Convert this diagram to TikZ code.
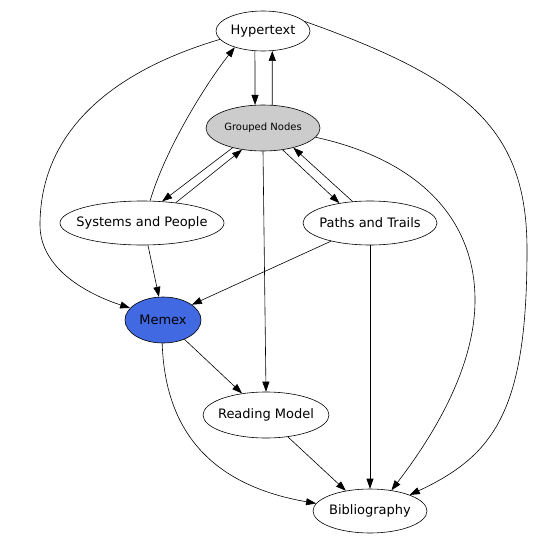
\documentclass[tikz,border=0pt]{standalone}
\usepackage{fontspec}
\setmainfont{DejaVu Sans}
\usetikzlibrary{shapes.geometric,arrows.meta}
\definecolor{grp}{HTML}{CCCCCC}
\definecolor{memexblue}{HTML}{4169E1}
\newcommand{\zlbl}[1]{\makebox[0pt]{#1}}
\begin{document}
\begin{tikzpicture}[x=1pt,y=-1pt,
  nd/.style={ellipse,draw,line width=0.6pt,inner sep=0pt,font=\fontsize{13}{15}\selectfont},
  e/.style={line width=0.6pt,-{Triangle[length=10pt,width=7pt]}}]
\useasboundingbox (0,0) rectangle (548,543);
\node[nd,minimum width=94pt,minimum height=40pt] (ht) at (263,31) {\zlbl{Hypertext}};
\node[nd,fill=grp,minimum width=114pt,minimum height=46pt,font=\fontsize{10}{12}\selectfont] (gn) at (263,128) {\zlbl{Grouped Nodes}};
\node[nd,minimum width=164pt,minimum height=44pt] (sp) at (142,223) {\zlbl{Systems and People}};
\node[nd,minimum width=134pt,minimum height=44pt] (pt) at (370,223) {\zlbl{Paths and Trails}};
\node[nd,fill=memexblue,minimum width=76pt,minimum height=46pt] (mx) at (163,320) {\zlbl{Memex}};
\node[nd,minimum width=126pt,minimum height=46pt] (rm) at (266,415) {\zlbl{Reading Model}};
\node[nd,minimum width=114pt,minimum height=44pt] (bib) at (370,511) {\zlbl{Bibliography}};

\draw[e] (ht.248) -- (gn.109);
\draw[e] (gn.68) -- (ht.295);
\draw[e] (ht.191) .. controls (100,75) and (40,140) .. (40,225) .. controls (40,270) and (90,295) .. (mx.160);
\draw[e] (ht.13) .. controls (470,80) and (527,130) .. (527,250) .. controls (527,410) and (495,455) .. (bib.22);
\draw[e] (sp.70) .. controls (165,150) and (205,85) .. (ht.210);
\draw[e] (gn.213) -- (sp.47);
\draw[e] (sp.31) -- (gn.226);
\draw[e] (gn.312) -- (pt.147);
\draw[e] (pt.129) -- (gn.327);
\draw[e] (gn.south) -- (rm.north);
\draw[e] (gn.350) .. controls (420,160) and (475,220) .. (475,300) .. controls (475,370) and (430,440) .. (bib.44);
\draw[e] (sp.285) -- (mx.100);
\draw[e] (pt.205) -- (mx.28);
\draw[e] (pt.south) -- (bib.north);
\draw[e] (mx.318) -- (rm.138);
\draw[e] (mx.268) .. controls (165,430) and (210,485) .. (bib.172);
\draw[e] (rm.315) -- (bib.140);
\end{tikzpicture}
\end{document}
